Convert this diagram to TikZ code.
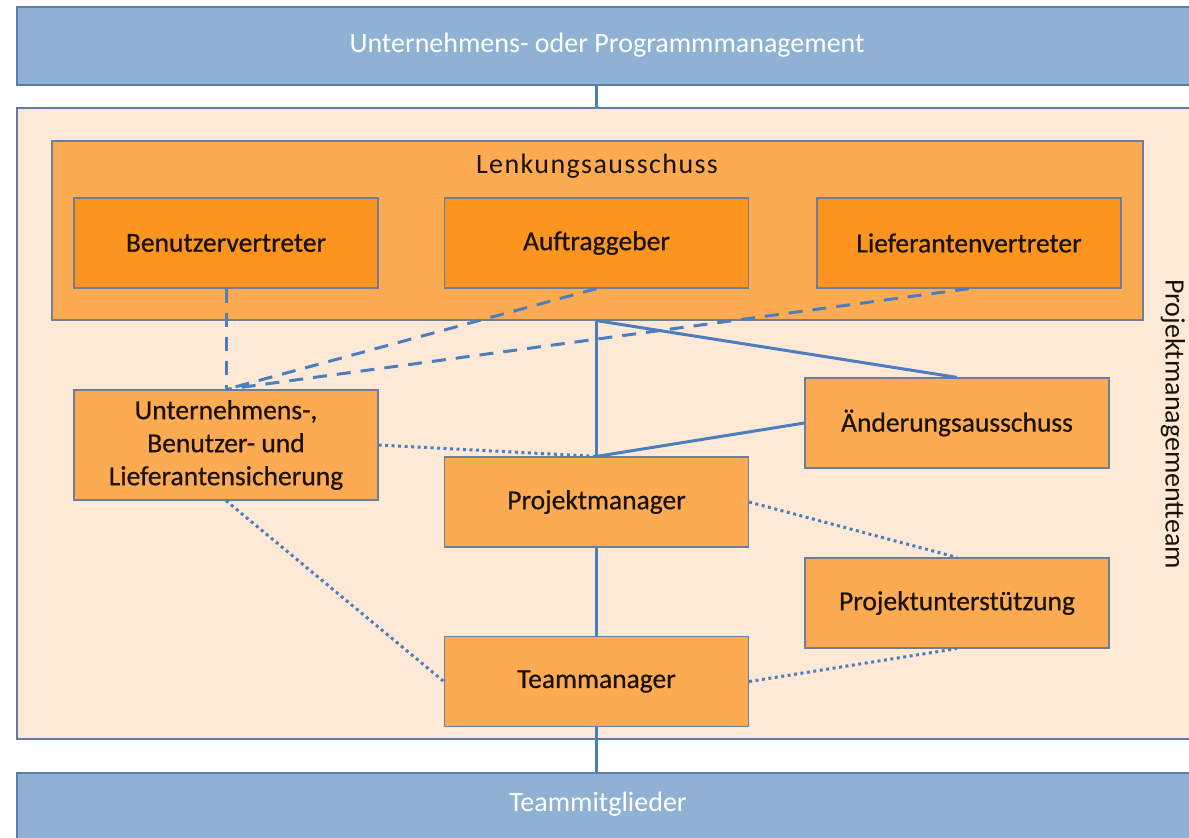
\documentclass[tikz,border=0pt]{standalone}
\usepackage{fontspec}
\setmainfont{Carlito}
\newfontfamily\boxfont[FakeBold=0.6]{Carlito}
\newfontfamily\titlefont[LetterSpace=5]{Carlito}
\usetikzlibrary{calc}

\definecolor{barblue}{HTML}{8FB1D3}
\definecolor{barline}{HTML}{5B7DA8}
\definecolor{peach}{HTML}{FDE9D5}
\definecolor{orangemid}{HTML}{FDAB53}
\definecolor{orangedark}{HTML}{FB951F}
\definecolor{boxline}{HTML}{6E7E98}
\definecolor{linkblue}{HTML}{4A7EBF}
\definecolor{txt}{HTML}{1A1208}

\tikzset{
  bar/.style={draw=barline, line width=1.6pt, fill=barblue, inner sep=0pt},
  bartext/.style={text=white, font=\fontsize{28}{32}\selectfont},
  role/.style={draw=boxline, line width=1.2pt, fill=orangemid, inner sep=0pt,
    minimum width=304pt, minimum height=90pt, text=txt, align=center,
    font=\boxfont\fontsize{27.5}{33}\selectfont},
  member/.style={role, fill=orangedark},
  link/.style={draw=linkblue, line width=3pt},
  dashlink/.style={link, dash pattern=on 14pt off 10pt},
  dotlink/.style={link, dash pattern=on 3pt off 3.5pt}
}

\begin{document}
\begin{tikzpicture}[x=1pt, y=-1pt]
\useasboundingbox (0,0) rectangle (1189,838);
\fill[white] (0,0) rectangle (1189,838);

% outer bars and the team panel
\node[bar, minimum width=1180pt, minimum height=78pt] (top) at (607,46) {};
\node[bartext] (toplabel) at (607,45) {Unternehmens- oder Programmmanagement};
\node[draw=barline, line width=1.4pt, fill=peach, inner sep=0pt,
  minimum width=1180pt, minimum height=631pt] (panel) at (607,423.5) {};
\node[bar, minimum width=1180pt, minimum height=80pt] (bottom) at (607,813) {};
\node[bartext] (bottomlabel) at (598,804) {Teammitglieder};
\node[rotate=-90, text=txt, font=\fontsize{28}{32}\selectfont] (teamlabel) at (1173,424) {Projektmanagementteam};

% steering committee
\node[role, minimum width=1091pt, minimum height=179pt] (lenk) at (597.5,230.5) {};
\node[text=txt, font=\titlefont\fontsize{28}{32}\selectfont] (lenklabel) at (597,166) {Lenkungsausschuss};
\node[member] (benutzer) at (226,243) {Benutzervertreter};
\node[member] (auftrag) at (596.5,243) {Auftraggeber};
\node[member] (liefer) at (969,243) {Lieferantenvertreter};

% project management roles
\node[role, minimum height=110pt] (sicher) at (226,445) {Unternehmens-,\\Benutzer- und\\Lieferantensicherung};
\node[role] (pm) at (596.5,502) {Projektmanager};
\node[role] (aend) at (957,423) {Änderungsausschuss};
\node[role] (pus) at (957,603) {Projektunterstützung};
\node[role] (tm) at (596.5,681.5) {Teammanager};

% connectors
\draw[link] (top.south -| pm.north) -- (panel.north -| pm.north);
\draw[link] (lenk.south -| pm.north) -- (pm.north);
\draw[link] (lenk.south -| pm.north) -- (aend.north);
\draw[link] (pm.north) -- (aend.west);
\draw[link] (pm.south) -- (tm.north);
\draw[link] (tm.south) -- (bottom.north -| tm.south);

\draw[dashlink] (benutzer.south) -- (sicher.north);
\draw[dashlink] (auftrag.south) -- (sicher.north);
\draw[dashlink] (liefer.south) -- (sicher.north);

\draw[dotlink] (sicher.east) -- (pm.north);
\draw[dotlink] (sicher.south) -- (tm.west);
\draw[dotlink] (pm.east) -- (pus.north);
\draw[dotlink] (tm.east) -- (pus.south);
\end{tikzpicture}
\end{document}
